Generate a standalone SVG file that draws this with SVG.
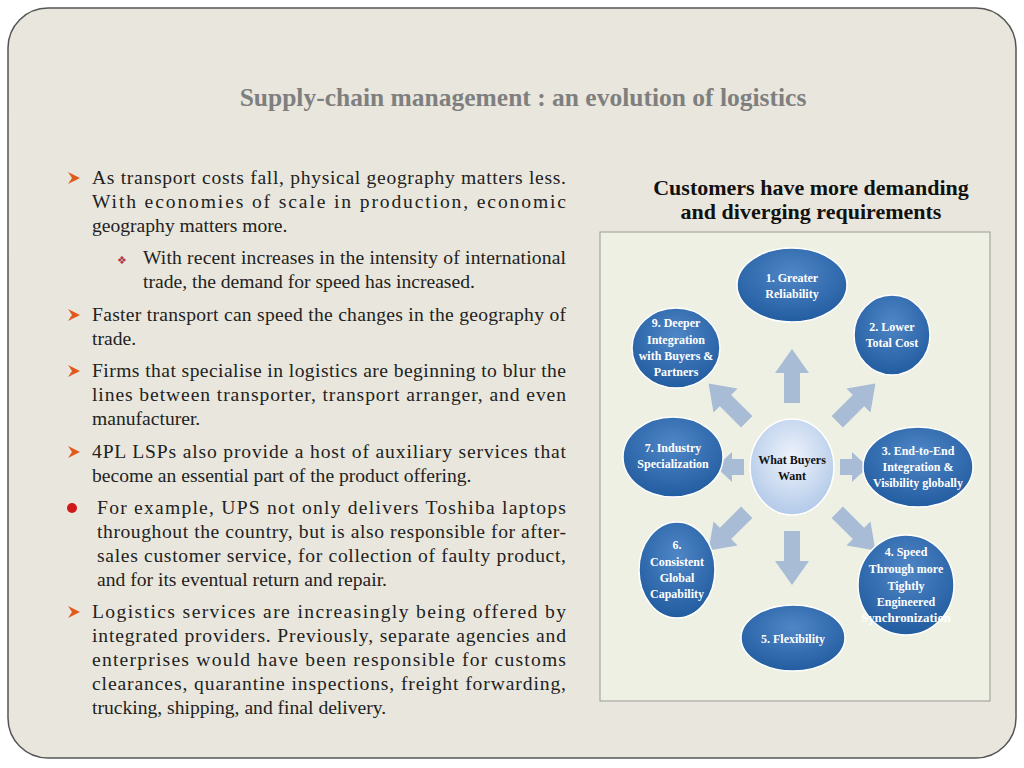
<svg xmlns="http://www.w3.org/2000/svg" width="1024" height="768" viewBox="0 0 1024 768">
<defs>
<radialGradient id="bl" cx="0.5" cy="0.35" r="0.7"><stop offset="0" stop-color="#4f86c6"/><stop offset="1" stop-color="#1f5a9e"/></radialGradient>
<radialGradient id="cl" cx="0.5" cy="0.4" r="0.7"><stop offset="0" stop-color="#eef3fb"/><stop offset="1" stop-color="#a9c3e6"/></radialGradient>
<path id="arr" d="M-8,-64 L8,-64 L8,-94 L17,-94 L0,-118 L-17,-94 L-8,-94 Z" fill="#a9bcd6"/>
<path id="sarr" d="M-8,-48 L8,-48 L8,-60 L15,-60 L0,-76 L-15,-60 L-8,-60 Z" fill="#a9bcd6"/>
</defs>
<style>
.t{font-family:"Liberation Serif",serif;font-size:19.6px;fill:#222}
.n{font-family:"Liberation Serif",serif;font-size:12px;font-weight:bold;fill:#fff;text-anchor:middle}
.e{fill:url(#bl);stroke:#fff;stroke-width:1.5}
</style>
<rect width="1024" height="768" fill="#fff"/>
<rect x="8" y="8" width="1008" height="750" rx="40" fill="#e9e7dd" stroke="#555" stroke-width="1.5"/>
<text x="523" y="106" text-anchor="middle" font-family="Liberation Serif,serif" font-size="25.5" font-weight="bold" fill="#7f7f7f">Supply-chain management : an evolution of logistics</text>
<g id="text">
<path d="M68,172 L80,178 L68,184 L72,178 Z" fill="#e05a1e"/>
<text class="t" x="92" y="184" textLength="474" lengthAdjust="spacing">As transport costs fall, physical geography matters less.</text>
<text class="t" x="92" y="208" textLength="474" lengthAdjust="spacing">With economies of scale in production, economic</text>
<text class="t" x="92" y="232">geography matters more.</text>
<text x="117" y="264" font-size="11" fill="#b03040" font-family="DejaVu Sans,sans-serif">❖</text>
<text class="t" x="143" y="264" textLength="423" lengthAdjust="spacing">With recent increases in the intensity of international</text>
<text class="t" x="143" y="288">trade, the demand for speed has increased.</text>
<path d="M68,309 L80,315 L68,321 L72,315 Z" fill="#e05a1e"/>
<text class="t" x="92" y="321" textLength="474" lengthAdjust="spacing">Faster transport can speed the changes in the geography of</text>
<text class="t" x="92" y="345">trade.</text>
<path d="M68,365 L80,371 L68,377 L72,371 Z" fill="#e05a1e"/>
<text class="t" x="92" y="377" textLength="474" lengthAdjust="spacing">Firms that specialise in logistics are beginning to blur the</text>
<text class="t" x="92" y="401" textLength="474" lengthAdjust="spacing">lines between transporter, transport arranger, and even</text>
<text class="t" x="92" y="425">manufacturer.</text>
<path d="M68,446 L80,452 L68,458 L72,452 Z" fill="#e05a1e"/>
<text class="t" x="92" y="458" textLength="474" lengthAdjust="spacing">4PL LSPs also provide a host of auxiliary services that</text>
<text class="t" x="92" y="482">become an essential part of the product offering.</text>
<circle cx="72" cy="508" r="5" fill="#d01818"/>
<text class="t" x="97" y="514" textLength="469" lengthAdjust="spacing">For example, UPS not only delivers Toshiba laptops</text>
<text class="t" x="97" y="538" textLength="469" lengthAdjust="spacing">throughout the country, but is also responsible for after-</text>
<text class="t" x="97" y="562" textLength="469" lengthAdjust="spacing">sales customer service, for collection of faulty product,</text>
<text class="t" x="97" y="586">and for its eventual return and repair.</text>
<path d="M68,606 L80,612 L68,618 L72,612 Z" fill="#e05a1e"/>
<text class="t" x="92" y="618" textLength="474" lengthAdjust="spacing">Logistics services are increasingly being offered by</text>
<text class="t" x="92" y="642" textLength="474" lengthAdjust="spacing">integrated providers. Previously, separate agencies and</text>
<text class="t" x="92" y="666" textLength="474" lengthAdjust="spacing">enterprises would have been responsible for customs</text>
<text class="t" x="92" y="690" textLength="474" lengthAdjust="spacing">clearances, quarantine inspections, freight forwarding,</text>
<text class="t" x="92" y="714">trucking, shipping, and final delivery.</text>
</g>
<text x="811" y="195" text-anchor="middle" font-family="Liberation Serif,serif" font-size="22" font-weight="bold" fill="#111">Customers have more demanding</text>
<text x="811" y="219" text-anchor="middle" font-family="Liberation Serif,serif" font-size="22" font-weight="bold" fill="#111">and diverging requirements</text>
<rect x="600" y="232" width="390" height="469" fill="#eef0e4" stroke="#999" stroke-width="1"/>
<g id="connectors" transform="translate(792,467)">
<use href="#arr"/>
<use href="#arr" transform="rotate(45)"/>
<use href="#sarr" transform="rotate(90)"/>
<use href="#arr" transform="rotate(135)"/>
<use href="#arr" transform="rotate(180)"/>
<use href="#arr" transform="rotate(225)"/>
<use href="#sarr" transform="rotate(270)"/>
<use href="#arr" transform="rotate(315)"/>
</g>
<g id="center"><ellipse cx="792" cy="467" rx="42" ry="48" fill="url(#cl)" stroke="#fff" stroke-width="1.5"/>
<text class="n" x="792" y="464" style="fill:#111">What Buyers</text><text class="n" x="792" y="480" style="fill:#111">Want</text></g>
<g id="n1"><ellipse class="e" cx="792" cy="285" rx="55" ry="37"/><text class="n" x="792" y="282">1. Greater</text><text class="n" x="792" y="298">Reliability</text></g>
<g id="n2"><ellipse class="e" cx="892" cy="335" rx="38" ry="40"/><text class="n" x="892" y="331">2. Lower</text><text class="n" x="892" y="347">Total Cost</text></g>
<g id="n3"><ellipse class="e" cx="918" cy="467" rx="55" ry="40"/><text class="n" x="918" y="455">3. End-to-End</text><text class="n" x="918" y="471">Integration &amp;</text><text class="n" x="918" y="487">Visibility globally</text></g>
<g id="n4"><ellipse class="e" cx="906" cy="585" rx="48" ry="50"/><text class="n" x="906" y="556">4. Speed</text><text class="n" x="906" y="573">Through more</text><text class="n" x="906" y="590">Tightly</text><text class="n" x="906" y="606">Engineered</text><text class="n" x="906" y="622" textLength="90" lengthAdjust="spacingAndGlyphs">Synchronization</text></g>
<g id="n5"><ellipse class="e" cx="793" cy="638" rx="52" ry="33"/><text class="n" x="793" y="643">5. Flexibility</text></g>
<g id="n6"><ellipse class="e" cx="677" cy="570" rx="38" ry="48"/><text class="n" x="677" y="549">6.</text><text class="n" x="677" y="566">Consistent</text><text class="n" x="677" y="582">Global</text><text class="n" x="677" y="598">Capability</text></g>
<g id="n7"><ellipse class="e" cx="673" cy="457" rx="50" ry="40"/><text class="n" x="673" y="452">7. Industry</text><text class="n" x="673" y="468">Specialization</text></g>
<g id="n9"><ellipse class="e" cx="676" cy="348" rx="44" ry="40"/><text class="n" x="676" y="327">9. Deeper</text><text class="n" x="676" y="344">Integration</text><text class="n" x="676" y="360">with Buyers &amp;</text><text class="n" x="676" y="376">Partners</text></g>
</svg>
